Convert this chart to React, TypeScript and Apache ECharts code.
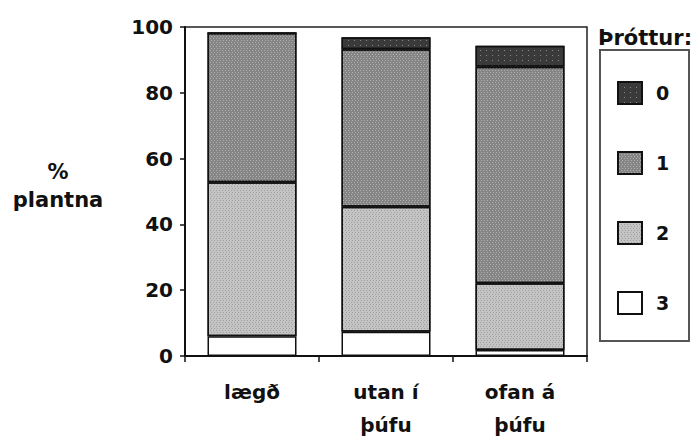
import React, { useEffect, useRef } from "react";
import * as echarts from "echarts";

const categories = ["lægð", "utan í\nþúfu", "ofan á\nþúfu"];
const class3 = [6, 7.4, 1.8];
const class2 = [46.8, 38, 20.3];
const class1 = [45.4, 47.8, 65.8];
const class0 = [0, 3.7, 6.4];
const yTicks = [0, 20, 40, 60, 80, 100];

const FONT = "DejaVu Sans, Liberation Sans, Arial, sans-serif";

export default function App() {
  const ref = useRef<HTMLDivElement>(null);
  useEffect(() => {
    if (!ref.current) return;
    const chart = echarts.init(ref.current, undefined, { renderer: "svg" });
    const border = { borderColor: "#111", borderWidth: 1.5 };
    const mk = (name: string, data: number[], color: string, decal?: any) => ({
      name,
      type: "bar",
      stack: "all",
      data,
      barWidth: 89,
      itemStyle: { color, ...border, ...(decal ? { decal } : {}) },
    });
    chart.setOption({
      animation: false,
      backgroundColor: "#fff",
      textStyle: { fontFamily: FONT },
      grid: {
        left: 185,
        right: 108,
        top: 27,
        bottom: 89,
        show: true,
        borderColor: "#222",
        borderWidth: 1.5,
      },
      xAxis: {
        type: "category",
        data: categories,
        axisLine: { lineStyle: { color: "#111", width: 2 } },
        axisTick: { show: true, length: 6, lineStyle: { color: "#111", width: 1.5 } },
        axisLabel: {
          color: "#111",
          fontSize: 20,
          fontWeight: "bold",
          fontFamily: FONT,
          margin: 19,
          lineHeight: 33,
        },
      },
      yAxis: {
        type: "value",
        min: 0,
        max: 100,
        interval: 20,
        splitLine: { show: false },
        axisLine: { show: true, lineStyle: { color: "#111", width: 2 } },
        axisTick: { show: true, length: 5, lineStyle: { color: "#111", width: 1.5 } },
        axisLabel: {
          color: "#111",
          fontSize: 20,
          fontWeight: "bold",
          fontFamily: FONT,
          margin: 12,
          formatter: (v: number) => (yTicks.includes(v) ? String(v) : ""),
        },
      },
      legend: {
        orient: "vertical",
        left: 617,
        top: 81,
        padding: 0,
        itemGap: 46,
        itemWidth: 24,
        itemHeight: 22,
        icon: "rect",
        data: ["0", "1", "2", "3"],
        textStyle: { color: "#111", fontSize: 19, fontWeight: "bold", fontFamily: FONT, padding: [0, 0, 0, 9] },
      },
      series: [
        mk("3", class3, "#ffffff"),
        mk("2", class2, "#c4c4c4", {
          symbol: "rect",
          symbolSize: 1,
          dashArrayX: [[1, 2], [0, 1, 1, 1]],
          dashArrayY: [1, 1],
          color: "rgba(90,90,90,0.35)",
        }),
        mk("1", class1, "#858585", {
          symbol: "rect",
          symbolSize: 1,
          dashArrayX: [[1, 2], [0, 1, 1, 1]],
          dashArrayY: [1, 1],
          color: "rgba(255,255,255,0.35)",
        }),
        mk("0", class0, "#3a3a3a", {
          symbol: "rect",
          symbolSize: 1,
          dashArrayX: [1, 5],
          dashArrayY: [1, 4],
          color: "rgba(255,255,255,0.4)",
        }),
      ],
      graphic: [
        {
          type: "rect",
          shape: { x: 600, y: 50, width: 89, height: 291 },
          style: { fill: "none", stroke: "#555", lineWidth: 2 },
        },
        {
          type: "text",
          x: 645,
          y: 38,
          style: {
            text: "Þróttur:",
            fill: "#111",
            font: `bold 21px ${FONT}`,
            align: "center",
            verticalAlign: "middle",
          },
        },
        {
          type: "text",
          x: 58,
          y: 172,
          style: { text: "%", fill: "#111", font: `bold 21px ${FONT}`, align: "center", verticalAlign: "middle" },
        },
        {
          type: "text",
          x: 58,
          y: 200,
          style: { text: "plantna", fill: "#111", font: `bold 21px ${FONT}`, align: "center", verticalAlign: "middle" },
        },
      ],
    });
    return () => chart.dispose();
  }, []);
  return (
    <div
      ref={ref}
      style={{ width: 695, height: 445, position: "absolute", left: 0, top: 0 }}
    />
  );
}
